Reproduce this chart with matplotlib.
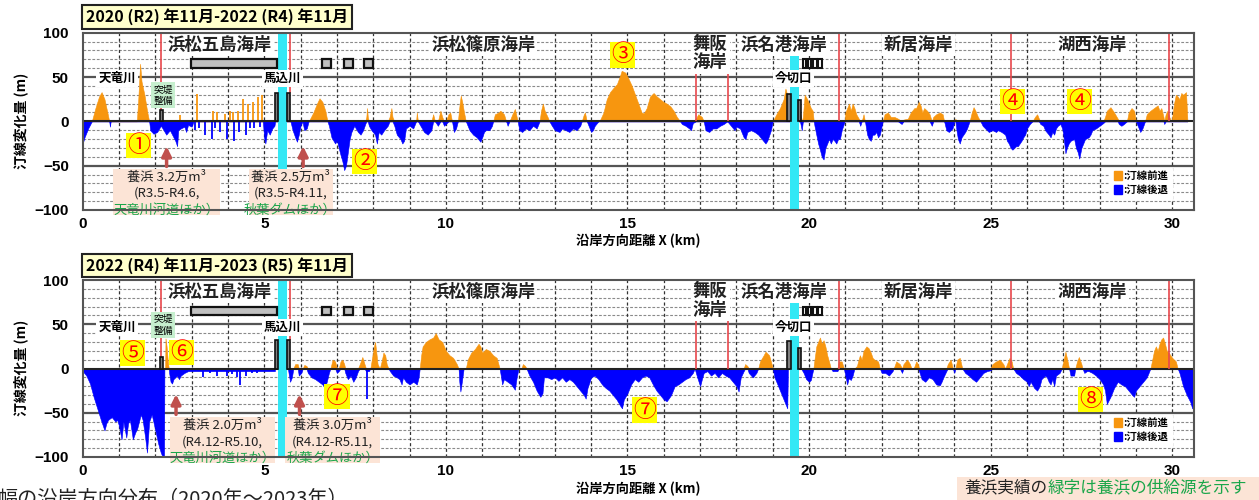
import numpy as np
import matplotlib
matplotlib.use('Agg')
import matplotlib.pyplot as plt
from matplotlib.patches import Rectangle, Patch

plt.rcParams['font.family'] = ['Noto Sans CJK JP', 'DejaVu Sans']

W, H = 1259, 500
ORANGE = '#f7960f'
BLUE = '#0000ff'
GREEN = '#1aa64a'
ARROW = '#c0504d'
PINK = '#fce4d6'

top_title = "2020 (R2) 年11月-2022 (R4) 年11月"
bot_title = "2022 (R4) 年11月-2023 (R5) 年11月"

x_ticks = [0, 5, 10, 15, 20, 25, 30]
y_ticks = [-100, -50, 0, 50, 100]

# shoreline change profile (km, m)
top_profile = [
    (0.00, -25), (0.05, -18), (0.15, -8), (0.25, 0), (0.35, 15), (0.45, 28), (0.52, 33), (0.60, 25),
    (0.68, 10), (0.73, 0), (0.75, -6), (0.77, 0), (1.49, 0), (1.53, 25), (1.58, 65), (1.62, 45),
    (1.70, 30), (1.78, 10), (1.83, 0), (1.86, -10), (1.95, -14), (2.05, -12), (2.15, -5), (2.20, -8),
    (2.30, -15), (2.40, -10), (2.50, -18), (2.55, -22), (2.60, -28), (2.63, -10), (2.70, -8), (2.80, -6),
    (2.85, -12), (2.90, -4), (3.00, -6), (3.05, 0), (4.96, 0), (5.00, -20), (5.03, -25), (5.08, -10),
    (5.15, -15), (5.22, -8), (5.28, -5), (5.30, 0), (5.72, 0), (5.78, -10), (5.85, -18), (5.90, -23),
    (5.95, -15), (6.00, -5), (6.05, 0), (6.10, -10), (6.17, -8), (6.22, 0), (6.25, 2), (6.35, 10),
    (6.45, 20), (6.52, 26), (6.60, 22), (6.68, 12), (6.74, 0), (6.78, -5), (6.85, -18), (6.95, -25),
    (7.00, -22), (7.05, -30), (7.10, -38), (7.15, -45), (7.20, -55), (7.25, -50), (7.30, -35), (7.35, -20),
    (7.40, -12), (7.48, -5), (7.52, -8), (7.58, -12), (7.65, -15), (7.72, -10), (7.78, -3), (7.81, 5),
    (7.83, 15), (7.85, 5), (7.88, -5), (7.95, -10), (8.05, -15), (8.10, -25), (8.15, -12), (8.22, -15),
    (8.30, -10), (8.40, -5), (8.45, 5), (8.50, 15), (8.53, 5), (8.58, -5), (8.65, -15), (8.75, -20),
    (8.80, -25), (8.85, -22), (8.90, -8), (9.00, -5), (9.10, -8), (9.18, 0), (9.20, 10), (9.23, 0),
    (9.30, -5), (9.40, -12), (9.50, -15), (9.60, -10), (9.65, 8), (9.70, 0), (9.78, -5), (9.85, 12),
    (9.90, 5), (9.95, -5), (10.00, -3), (10.07, 8), (10.12, 10), (10.17, 0), (10.22, -12), (10.28, -8),
    (10.33, 0), (10.38, 20), (10.41, 29), (10.45, 22), (10.50, 10), (10.55, 0), (10.60, -5), (10.65, -10),
    (10.75, -15), (10.85, -18), (10.95, -23), (11.00, -18), (11.05, -12), (11.10, -10), (11.20, -10),
    (11.27, -5), (11.30, 0), (11.35, 8), (11.45, 10), (11.50, 12), (11.60, 8), (11.66, 0), (11.70, -5),
    (11.75, 0), (11.83, 8), (11.90, 14), (11.95, 5), (11.98, 0), (12.02, -10), (12.10, -12), (12.20, -8),
    (12.30, -10), (12.40, -5), (12.50, -8), (12.58, 0), (12.62, 12), (12.67, 20), (12.72, 12), (12.80, 5),
    (12.85, 0), (12.92, -5), (13.00, -10), (13.13, -12), (13.20, -8), (13.30, -10), (13.40, -12),
    (13.50, -8), (13.60, -10), (13.70, -5), (13.74, 0), (13.80, 8), (13.83, 10), (13.88, 0), (13.93, -5),
    (14.00, -12), (14.05, -10), (14.10, -5), (14.20, 0), (14.25, 2), (14.34, 10), (14.43, 25), (14.52, 33),
    (14.62, 38), (14.71, 42), (14.80, 52), (14.84, 57), (14.94, 55), (15.03, 48), (15.12, 40), (15.21, 30),
    (15.30, 20), (15.39, 10), (15.45, 9), (15.53, 15), (15.62, 28), (15.72, 32), (15.81, 28), (15.90, 25),
    (15.99, 22), (16.08, 20), (16.18, 17), (16.27, 12), (16.36, 5), (16.45, 0), (16.50, -3), (16.60, -5),
    (16.70, -8), (16.75, -10), (16.80, -2), (16.88, 3), (16.95, 8), (17.05, 5), (17.10, 0), (17.15, -10),
    (17.25, -12), (17.35, -8), (17.45, -8), (17.55, -5), (17.65, -3), (17.75, 0), (17.85, -5), (17.95, -10),
    (18.00, -6), (18.10, -8), (18.20, -18), (18.25, -20), (18.30, -12), (18.40, -10), (18.50, -12),
    (18.60, -15), (18.70, -20), (18.80, -25), (18.85, -22), (18.95, -10), (19.00, 0), (19.10, 8),
    (19.20, 15), (19.30, 25), (19.35, 37), (19.40, 30), (19.45, 20), (19.48, 15), (19.72, 10), (19.75, 10),
    (19.80, -10), (19.83, 5), (19.88, 30), (19.95, 25), (20.00, 20), (20.05, 15), (20.10, 12), (20.13, 0),
    (20.15, -5), (20.20, -15), (20.25, -25), (20.30, -32), (20.35, -40), (20.40, -43), (20.45, -30),
    (20.50, -25), (20.55, -20), (20.60, -25), (20.65, -20), (20.70, -22), (20.75, -25), (20.80, -20),
    (20.85, -20), (20.90, -10), (20.98, 0), (21.00, 10), (21.05, 15), (21.10, 20), (21.15, 12), (21.20, 20),
    (21.25, 15), (21.30, 8), (21.37, 3), (21.41, -5), (21.45, 0), (21.50, 8), (21.54, 0), (21.60, -15),
    (21.65, -20), (21.70, -22), (21.75, -15), (21.80, -15), (21.85, -12), (21.90, -18), (21.95, -15),
    (22.00, -5), (22.03, 0), (22.08, 8), (22.17, 10), (22.25, 5), (22.35, 5), (22.45, 3), (22.55, -3),
    (22.60, 2), (22.72, 3), (22.80, 10), (22.90, 15), (22.95, 15), (23.02, 22), (23.07, 18), (23.12, 10),
    (23.17, 15), (23.25, 12), (23.32, 8), (23.38, -5), (23.42, 5), (23.50, 8), (23.60, 10), (23.68, 8),
    (23.72, 0), (23.78, -10), (23.85, -12), (23.95, -8), (24.00, 0), (24.03, 3), (24.06, -10), (24.10, -20),
    (24.15, -25), (24.20, -18), (24.25, -15), (24.30, -12), (24.35, -8), (24.42, 0), (24.48, 10),
    (24.53, 16), (24.58, 12), (24.65, 5), (24.72, 0), (24.78, -5), (24.85, -8), (24.95, -12), (25.05, -10),
    (25.15, -12), (25.20, -10), (25.30, -12), (25.40, -15), (25.45, -22), (25.50, -25), (25.55, -30),
    (25.60, -32), (25.65, -30), (25.70, -28), (25.75, -28), (25.80, -25), (25.85, -22), (25.90, -18),
    (25.95, -15), (26.00, -8), (26.08, -3), (26.15, 0), (26.22, 5), (26.28, 8), (26.33, 3), (26.37, -3),
    (26.45, -5), (26.50, -10), (26.60, -15), (26.65, -18), (26.70, -12), (26.75, -15), (26.80, -8),
    (26.85, -5), (26.92, -3), (26.97, -8), (27.00, -15), (27.06, -36), (27.10, -30), (27.15, -25),
    (27.20, -22), (27.30, -20), (27.35, -30), (27.40, -35), (27.44, -42), (27.50, -30), (27.55, -25),
    (27.60, -20), (27.70, -18), (27.75, -15), (27.80, -10), (27.90, -8), (28.00, -5), (28.10, -2),
    (28.15, 5), (28.20, 12), (28.30, 16), (28.40, 10), (28.50, 3), (28.53, -3), (28.60, -5), (28.67, -3),
    (28.75, 0), (28.80, 10), (28.88, 15), (28.95, 12), (29.00, 0), (29.05, -5), (29.12, -12), (29.18, -8),
    (29.25, 0), (29.30, 8), (29.40, 12), (29.50, 15), (29.60, 18), (29.65, 12), (29.70, 15), (29.76, 5),
    (29.78, -3), (29.82, 8), (29.87, 12), (29.92, 5), (29.97, 0), (30.00, 5), (30.05, 20), (30.10, 30),
    (30.15, 28), (30.20, 25), (30.25, 32), (30.30, 30), (30.38, 33), (30.42, 0),
]
top_spikes = [
    (2.68, 7), (3.09, -10), (3.16, 31), (3.20, -8), (3.37, -15), (3.55, -20), (3.60, 12), (3.65, -8),
    (3.70, 10), (3.78, -12), (3.92, 8), (3.96, -20), (4.05, 12), (4.15, 10), (4.17, -22), (4.28, 12),
    (4.31, -12), (4.42, 25), (4.51, -15), (4.56, 20), (4.60, -8), (4.70, 22), (4.72, -8), (4.83, 28),
    (4.88, -6), (4.93, 30),
]

bot_profile = [
    (0.00, -3), (0.10, -8), (0.20, -17), (0.30, -32), (0.40, -45), (0.50, -58), (0.60, -70), (0.65, -62),
    (0.70, -58), (0.80, -55), (0.90, -60), (0.95, -58), (1.00, -65), (1.07, -80), (1.12, -60), (1.20, -78),
    (1.25, -62), (1.30, -58), (1.38, -80), (1.45, -72), (1.50, -68), (1.60, -52), (1.65, -58), (1.72, -78),
    (1.77, -95), (1.83, -60), (1.90, -52), (2.00, -70), (2.08, -85), (2.15, -95), (2.20, -100), (2.24, -100),
    (2.25, 0), (2.27, 0), (2.28, 34), (2.31, 25), (2.34, 10), (2.37, 0), (2.38, -5), (2.42, -15),
    (2.46, -17), (2.50, -12), (2.55, -10), (2.60, -8), (2.65, -12), (2.70, -8), (2.80, -5), (2.90, -3),
    (3.00, -3), (5.29, -3), (5.30, 0), (5.65, 0), (5.68, -8), (5.71, -15), (5.76, -10), (5.80, 0),
    (5.85, 5), (5.92, 5), (5.95, -8), (6.02, -5), (6.06, 0), (6.10, 4), (6.16, 3), (6.20, -5), (6.30, -10),
    (6.40, -12), (6.50, -15), (6.60, -18), (6.67, -22), (6.72, -15), (6.78, -5), (6.82, 0), (6.88, 10),
    (6.95, 8), (7.00, -5), (7.05, -3), (7.10, 8), (7.15, 10), (7.20, 5), (7.23, -5), (7.30, -12),
    (7.38, -8), (7.45, -15), (7.52, -10), (7.58, -3), (7.63, 5), (7.70, 13), (7.76, 5), (7.80, -3),
    (7.88, -3), (7.92, 0), (7.96, 10), (8.02, 25), (8.05, 30), (8.08, 20), (8.12, 5), (8.18, 0), (8.23, 8),
    (8.28, 18), (8.33, 15), (8.37, 5), (8.42, 0), (8.46, -3), (8.55, -8), (8.65, -10), (8.72, -12),
    (8.78, -18), (8.82, -10), (8.90, -15), (9.00, -18), (9.10, -15), (9.20, -18), (9.25, -10), (9.28, 0),
    (9.32, 15), (9.36, 25), (9.45, 30), (9.55, 33), (9.65, 35), (9.72, 40), (9.80, 33), (9.90, 30),
    (10.00, 20), (10.10, 15), (10.20, 12), (10.30, 5), (10.35, 0), (10.37, -15), (10.40, -26), (10.44, -15),
    (10.49, 0), (10.55, 0), (10.60, 10), (10.70, 18), (10.80, 22), (10.90, 28), (10.95, 25), (11.00, 18),
    (11.10, 22), (11.20, 20), (11.30, 15), (11.40, 12), (11.48, 0), (11.52, -10), (11.55, -18), (11.60, -12),
    (11.70, -15), (11.80, -18), (11.90, -24), (11.95, -10), (12.00, 0), (12.08, 0), (12.12, 5), (12.18, 3),
    (12.22, 0), (12.30, -8), (12.40, -15), (12.50, -25), (12.60, -32), (12.66, -28), (12.70, -10),
    (12.80, -10), (12.90, -12), (13.00, -10), (13.10, -14), (13.20, -10), (13.30, -15), (13.40, -12),
    (13.50, -15), (13.60, -20), (13.70, -25), (13.80, -30), (13.85, -34), (13.90, -22), (14.00, -10),
    (14.10, -8), (14.20, -12), (14.30, -18), (14.40, -22), (14.50, -25), (14.60, -30), (14.70, -35),
    (14.80, -42), (14.85, -45), (14.90, -35), (15.00, -28), (15.10, -18), (15.20, -12), (15.30, -15),
    (15.40, -10), (15.50, -8), (15.60, -10), (15.70, -18), (15.80, -25), (15.90, -30), (16.00, -35),
    (16.08, -37), (16.15, -33), (16.20, -30), (16.30, -20), (16.40, -18), (16.50, -15), (16.60, -12),
    (16.70, -10), (16.80, -5), (16.85, 0), (16.92, -10), (17.00, -20), (17.05, -12), (17.10, -5),
    (17.20, -3), (17.30, -8), (17.40, -5), (17.50, -10), (17.60, -5), (17.70, -8), (17.80, -10),
    (17.90, -15), (18.00, -20), (18.06, -26), (18.12, -10), (18.20, -3), (18.24, 5), (18.30, 3),
    (18.34, -5), (18.45, -10), (18.55, -5), (18.60, 0), (18.65, 8), (18.75, 15), (18.80, 19), (18.90, 15),
    (18.97, 5), (19.00, 0), (19.05, -10), (19.10, -15), (19.20, -25), (19.30, -35), (19.40, -45),
    (19.42, 0), (19.78, 0), (19.85, -5), (19.92, -12), (20.00, -15), (20.05, -13), (20.12, 0), (20.15, 10),
    (20.20, 25), (20.25, 30), (20.30, 35), (20.35, 28), (20.40, 32), (20.45, 25), (20.50, 15), (20.55, 8),
    (20.60, 0), (20.65, -3), (20.78, -3), (20.82, 8), (20.90, 8), (20.96, 0), (21.00, -8), (21.05, -18),
    (21.09, -11), (21.15, -13), (21.20, -8), (21.25, 0), (21.32, 3), (21.35, 8), (21.40, 15), (21.45, 10),
    (21.50, 20), (21.58, 25), (21.64, 23), (21.70, 18), (21.75, 12), (21.80, 10), (21.90, 8), (21.95, 0),
    (22.00, -5), (22.10, -5), (22.20, -8), (22.30, -3), (22.33, 0), (22.40, 8), (22.50, 5), (22.56, -5),
    (22.60, 5), (22.70, 10), (22.78, 5), (22.82, 0), (22.88, 0), (22.95, 8), (23.00, 5), (23.03, -3),
    (23.10, -12), (23.20, -15), (23.30, -10), (23.40, -12), (23.50, -18), (23.60, -19), (23.65, -15),
    (23.70, -10), (23.78, -3), (23.82, 5), (23.90, 10), (23.96, 0), (24.00, -5), (24.03, 0), (24.08, 10),
    (24.15, 12), (24.22, 0), (24.30, -5), (24.40, -8), (24.50, -12), (24.60, -15), (24.70, -10),
    (24.80, -5), (24.90, -3), (25.00, -2), (25.05, 5), (25.15, 8), (25.25, 10), (25.35, 5), (25.40, 0),
    (25.45, 5), (25.52, 12), (25.58, 8), (25.62, 0), (25.70, -5), (25.80, -8), (25.90, -12), (26.00, -15),
    (26.05, -20), (26.10, -15), (26.20, -22), (26.28, -25), (26.35, -20), (26.40, -12), (26.50, -8),
    (26.55, -10), (26.60, -15), (26.65, -18), (26.70, -12), (26.75, -20), (26.80, -8), (26.90, -5),
    (26.96, 0), (27.00, 8), (27.06, 19), (27.12, 8), (27.16, 0), (27.20, -8), (27.30, -8), (27.33, 0),
    (27.38, 8), (27.43, 13), (27.50, 5), (27.53, 0), (27.58, -5), (27.65, -3), (27.70, -3), (27.80, -5),
    (27.90, -8), (28.00, -12), (28.10, -18), (28.15, -25), (28.20, -40), (28.25, -36), (28.30, -32),
    (28.40, -22), (28.50, -15), (28.60, -18), (28.70, -20), (28.80, -25), (28.90, -30), (28.95, -32),
    (29.00, -25), (29.10, -20), (29.20, -15), (29.30, -10), (29.35, -5), (29.40, 0), (29.45, 10),
    (29.50, 20), (29.55, 25), (29.60, 20), (29.65, 28), (29.70, 33), (29.75, 35), (29.80, 28), (29.85, 20),
    (29.90, 18), (29.95, 15), (30.00, 12), (30.10, 8), (30.15, 0), (30.20, -5), (30.30, -20), (30.40, -30),
    (30.50, -38), (30.55, -45), (30.60, -45),
]
bot_spikes = [
    (3.32, -10), (3.50, -5), (3.69, -8), (3.96, -8), (4.10, -6), (4.24, -10), (4.34, -19), (4.51, -8),
    (4.65, -5), (4.79, -5), (7.83, -34),
]

coast_labels = ["浜松五島海岸", "浜松篠原海岸", "舞阪\n海岸", "浜名港海岸", "新居海岸", "湖西海岸"]
coast_km = [3.78, 11.03, 17.28, 19.32, 23.01, 27.8]
coast_m = [86, 86, 77, 86, 86, 86]

red_lines_km = [2.15, 5.70, 16.90, 17.76, 20.82, 25.55, 29.90]
red_lines_bottom = [13, 32, 0, 0, 0, 0, 0]
red_lines_top = [100, 100, 58, 58, 100, 100, 100]

groin_km = [2.16, 5.34, 5.67, 19.445, 19.74]
groin_h_top = [13, 32, 32, 31, 24]
groin_h_bot = [13, 32, 32, 31, 23]

gray_boxes = [(2.98, 5.35), (6.58, 6.84), (7.20, 7.45), (7.75, 8.00)]
cyan_bands = [(5.38, 5.63), (19.48, 19.71)]

top_marks = [("①", 1.53, -27), ("②", 7.76, -45), ("③", 14.86, 75), ("④", 25.6, 22), ("④", 27.44, 22)]
bot_marks = [("⑤", 1.38, 17.5), ("⑥", 2.73, 18), ("⑦", 7.0, -32), ("⑦", 15.47, -47), ("⑧", 27.75, -35)]

top_notes = [
    (2.31, 0.84, 3.78, 2.31, ["養浜 3.2万m³", "(R3.5-R4.6,", "天竜川河道ほか）"]),
    (6.07, 4.57, 6.90, 5.72, ["養浜 2.5万m³", "(R3.5-R4.11,", "秋葉ダムほか）"]),
]
bot_notes = [
    (2.57, 2.41, 5.30, 3.85, ["養浜 2.0万m³", "(R4.12-R5.10,", "天竜川河道ほか）"]),
    (5.97, 5.57, 8.19, 6.88, ["養浜 3.0万m³", "(R4.12-R5.11,", "秋葉ダムほか）"]),
]


def fx(px):
    return px / W


def fy(py):
    return 1 - py / H


fig = plt.figure(figsize=(W / 100, H / 100), dpi=100)
fig.patch.set_facecolor('white')


def draw_panel(ax, profile, spikes, gh, marks, notes, river_m, tottei_m, note_lines_m, box_top, box_bot):
    xs = np.array([p[0] for p in profile])
    ys = np.array([p[1] for p in profile])
    ax.set_xlim(0, 30.6)
    ax.set_ylim(-100, 100)
    for v in range(-90, 100, 10):
        if v % 50 == 0:
            continue
        ax.axhline(v, color='#8a8a8a', ls=(0, (2.5, 1.5)), lw=0.8, zorder=1)
    for v in (50, -50):
        ax.axhline(v, color='#555555', lw=1.6, zorder=1)
    for k in range(1, 31):
        ax.axvline(k, color='#333333', ls=(0, (2.5, 2)), lw=0.9, zorder=1)
    ax.fill_between(xs, 0, np.clip(ys, 0, None), color=ORANGE, lw=0.4, zorder=2)
    ax.fill_between(xs, 0, np.clip(ys, None, 0), color=BLUE, lw=0.4, zorder=2)
    for sx, sv in spikes:
        ax.vlines(sx, 0, sv, color=ORANGE if sv > 0 else BLUE, lw=1.3, zorder=2)
    ax.axhline(0, color='#222222', lw=1.5, zorder=2.6)
    for a, b in cyan_bands:
        ax.axvspan(a, b, color='#33e8f5', lw=0, zorder=3)
    for k, lo, hi in zip(red_lines_km, red_lines_bottom, red_lines_top):
        ax.vlines(k, lo, hi, color='#e8474c', lw=1.2, zorder=3.2)
    for k, h in zip(groin_km, gh):
        ax.add_patch(Rectangle((k - 0.045, 0), 0.09, h, fc='#808080', ec='#111111', lw=1.2, zorder=4))
    for a, b in gray_boxes:
        ax.add_patch(Rectangle((a, 60), b - a, 10, fc='#c0c0c0', ec='#111111', lw=1.6, zorder=4))
    for i in range(4):
        ax.add_patch(Rectangle((19.82 + i * 0.145, 60), 0.1, 10, fc='white', ec='#111111', lw=1.5, zorder=4))
    wb = dict(fc='white', ec='none', pad=1.5)
    for t, k, m in zip(coast_labels, coast_km, coast_m):
        ax.text(k, m, t, ha='center', va='center', fontsize=12.5, fontweight='bold', color='#222222',
                bbox=wb, zorder=6, linespacing=1.05)
    ax.text(0.95, river_m, "天竜川", ha='center', va='center', fontsize=9, fontweight='bold', bbox=wb, zorder=6)
    ax.text(5.50, river_m, "馬込川", ha='center', va='center', fontsize=9, fontweight='bold', bbox=wb, zorder=6)
    ax.text(19.57, river_m, "今切口", ha='center', va='center', fontsize=9, fontweight='bold', bbox=wb, zorder=6)
    ax.text(2.21, tottei_m, "突堤\n整備", ha='center', va='center', fontsize=7, linespacing=1.2,
            bbox=dict(fc='#c6efce', ec='none', pad=1.5), zorder=6)
    for t, k, m in marks:
        ax.text(k, m, t, ha='center', va='center', fontsize=16.5, color='#ff0000',
                bbox=dict(fc='#ffff00', ec='none', pad=0.8), zorder=7)
    for ax_k, b0, b1, tc, lines in notes:
        ax.add_patch(Rectangle((b0, box_bot), b1 - b0, box_top - box_bot, fc=PINK, ec='none',
                               zorder=6, clip_on=False))
        ax.annotate('', xy=(ax_k, box_top + 29), xytext=(ax_k, box_top),
                    arrowprops=dict(arrowstyle='-|>', color=ARROW, lw=2.5, mutation_scale=14),
                    zorder=6, annotation_clip=False)
        for j, (ln, m) in enumerate(zip(lines, note_lines_m)):
            ax.text(tc, m, ln, ha='center', va='center', fontsize=9.5,
                    color=GREEN if j == 2 else '#222222', zorder=7, clip_on=False)
    ax.set_xticks(x_ticks)
    ax.set_yticks(y_ticks)
    ax.tick_params(length=0, labelsize=11)
    ax.tick_params(axis='y', pad=10)
    ax.tick_params(axis='x', pad=5)
    for lab in ax.get_xticklabels() + ax.get_yticklabels():
        lab.set_fontweight('bold')
        lab.set_family(['Liberation Sans', 'DejaVu Sans'])
    for s in ax.spines.values():
        s.set_color('#555555')
        s.set_linewidth(1.5)
        s.set_zorder(8)
    leg = ax.legend(handles=[Patch(color=ORANGE), Patch(color=BLUE)], labels=[':汀線前進', ':汀線後退'],
                    loc='lower right', bbox_to_anchor=(0.985, 0.035), frameon=True,
                    facecolor='white', edgecolor='white', framealpha=1, fancybox=False,
                    handlelength=0.8, handleheight=0.9, handletextpad=0.15, borderpad=0.35,
                    labelspacing=0.35, prop={'weight': 'bold', 'size': 7.5})
    leg.set_zorder(9)


ax1 = fig.add_axes([fx(82.7), fy(210), fx(1194 - 82.7), (210 - 32.7) / H])
ax2 = fig.add_axes([fx(82.7), fy(457), fx(1194 - 82.7), (457 - 280) / H])

draw_panel(ax1, top_profile, top_spikes, groin_h_top, top_marks, top_notes,
           48, 29.5, [-62.7, -80.8, -100], -54, -106)
draw_panel(ax2, bot_profile, bot_spikes, groin_h_bot, bot_marks, bot_notes,
           46, 49, [-64, -82.7, -101.5], -55, -107)

for title, y0, y1 in [(top_title, 5, 29), (bot_title, 254, 277)]:
    fig.add_artist(Rectangle((fx(82), fy(y1)), fx(352 - 82), (y1 - y0) / H, transform=fig.transFigure,
                             fc='#ffffcc', ec='#222222', lw=1.5, zorder=10))
    fig.text(fx(217), fy((y0 + y1) / 2), title, ha='center', va='center', fontsize=11.5,
             fontweight='bold', zorder=11)

for yc in (121, 368):
    fig.text(fx(21), fy(yc), "汀線変化量 (m)", rotation=90, ha='center', va='center',
             fontsize=10, fontweight='bold')
for yc in (241, 489):
    fig.text(fx(638), fy(yc), "沿岸方向距離 X (km)", ha='center', va='center',
             fontsize=9.5, fontweight='bold')

fig.text(fx(-2), fy(499), "幅の沿岸方向分布（2020年～2023年）", ha='left', va='center', fontsize=14.5,
         color='#222222')
fig.add_artist(Rectangle((fx(957), 0), fx(1259 - 957), (500 - 477) / H, transform=fig.transFigure,
                         fc=PINK, ec='none', zorder=10))
fig.text(fx(964), fy(488), "養浜実績の", ha='left', va='center', fontsize=12, color='#222222', zorder=11)
fig.text(fx(1048), fy(488), "緑字は養浜の供給源を示す", ha='left', va='center', fontsize=12,
         color=GREEN, zorder=11)

fig.savefig('out.png', dpi=100, facecolor='white')
